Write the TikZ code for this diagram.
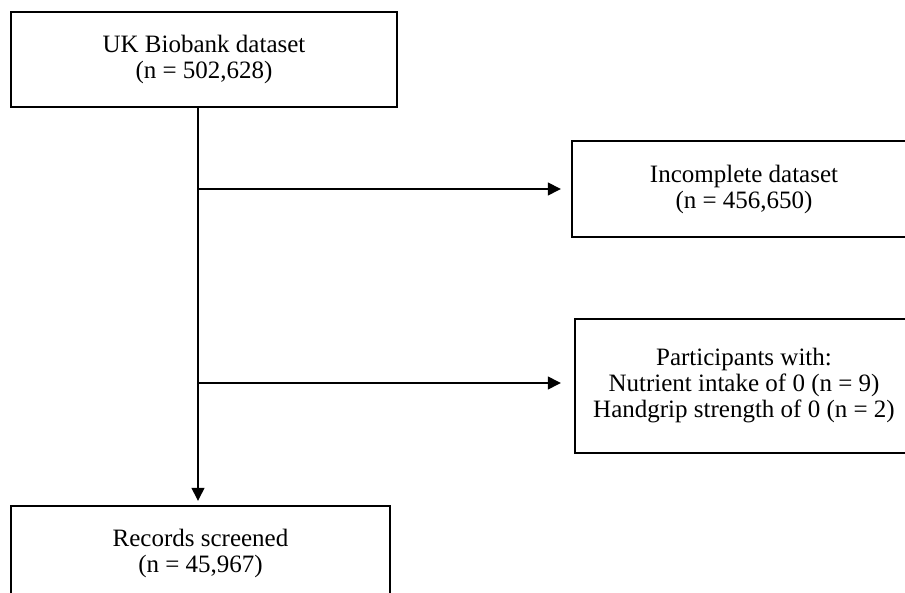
\documentclass[tikz,border=0pt]{standalone}
\usepackage{fontspec}
\setmainfont{Liberation Serif}
\usetikzlibrary{arrows.meta}

\tikzset{
 flowbox/.style={draw, line width=1.2pt, align=center, inner sep=0pt,
   font=\fontsize{12.5}{13}\selectfont},
 flowarrow/.style={line width=0.7pt, -{Triangle[length=6.5pt,width=6.5pt]}}
}

\begin{document}
\begin{tikzpicture}[x=0.5pt,y=-0.5pt]
%\draw[help lines] (0,0) grid[step=50] (905,593);
\useasboundingbox (0,0) rectangle (905,593);
\clip (0,0) rectangle (905,593);

 \node[flowbox, minimum width=193pt, minimum height=47.5pt] (biobank) at (204,59.5)
  {UK Biobank dataset\\(n = 502,628)};

 \node[flowbox, minimum width=172pt, minimum height=48pt] (incomplete) at (744,189)
  {Incomplete dataset\\(n = 456,650)};

 \node[flowbox, minimum width=169pt, minimum height=67pt] (excluded) at (744,386)
  {Participants with:\\Nutrient intake of 0 (n = 9)\\Handgrip strength of 0 (n = 2)};

 \node[flowbox, minimum width=189.5pt, minimum height=47.5pt] (records) at (200.5,553.5)
  {Records screened\\(n = 45,967)};

 \coordinate (split1) at (198,189);
 \coordinate (split2) at (198,383);

 \draw[flowarrow, shorten >=2pt] (biobank.south -| split1) -- (records.north -| split1);
 \draw[flowarrow, shorten >=5pt] (split1) -- (incomplete.west |- split1);
 \draw[flowarrow, shorten >=6.5pt] (split2) -- (excluded.west |- split2);

\end{tikzpicture}
\end{document}
